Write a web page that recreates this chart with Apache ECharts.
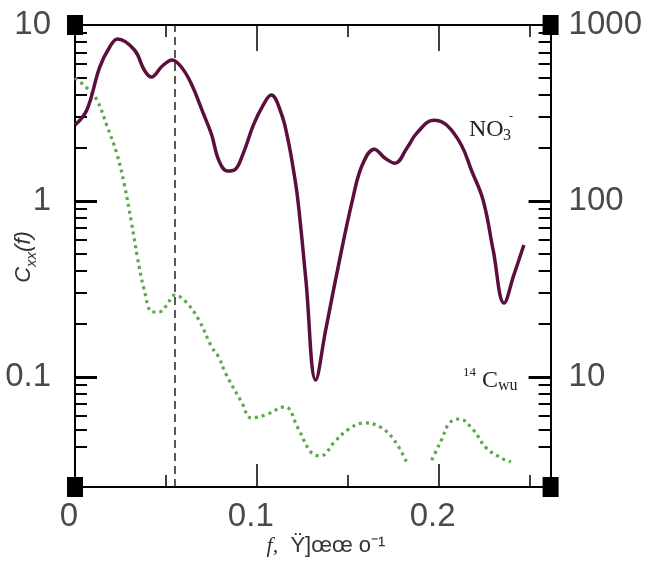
<!DOCTYPE html>
<html><head><meta charset="utf-8">
<script src="https://cdn.jsdelivr.net/npm/echarts@6/dist/echarts.min.js"></script>
<style>html,body{margin:0;padding:0;background:#fff}#c{width:645px;height:564px}</style>
</head><body><div id="c"></div>
<script>
// ---- data (frequency f, spectral density) ----
const no3F = [0, 0.0065, 0.0136, 0.0191, 0.0234, 0.0327, 0.0381, 0.042, 0.048, 0.0534, 0.0589, 0.0643, 0.0698, 0.0752, 0.079, 0.0839, 0.0877, 0.0926, 0.0981, 0.1035, 0.1079, 0.1134, 0.1172, 0.1199, 0.1226, 0.127, 0.1324, 0.1379, 0.1444, 0.1526, 0.158, 0.1646, 0.1706, 0.176, 0.1826, 0.188, 0.1973, 0.2044, 0.2125, 0.218, 0.2245, 0.23, 0.236, 0.2414, 0.2469];
const no3V = [270, 329, 577, 750, 833, 721, 555, 506, 585, 633, 570, 456, 329, 237, 171, 148, 150, 187, 270, 351, 400, 316, 222, 156, 101, 35.6, 9.6, 18.5, 40.5, 101, 160, 197, 175, 164, 200, 243, 288, 270, 208, 150, 101, 52.7, 26.3, 38.0, 56.2];
const c14F = [0, 0.0065, 0.012, 0.0174, 0.0229, 0.0272, 0.0311, 0.0343, 0.0381, 0.0425, 0.0463, 0.0501, 0.055, 0.061, 0.0681, 0.0752, 0.079, 0.0828, 0.0916, 0.097, 0.1046, 0.1155, 0.1226, 0.1297, 0.1351, 0.1428, 0.1499, 0.1591, 0.1678, 0.1755, 0.1826, 0.188, 0.1962, 0.1989, 0.2016, 0.206, 0.2114, 0.2191, 0.2262, 0.2354, 0.2398];
const c14V = [5.0, 4.39, 3.75, 2.70, 1.87, 1.23, 0.75, 0.481, 0.312, 0.234, 0.234, 0.253, 0.292, 0.267, 0.211, 0.148, 0.130, 0.105, 0.0721, 0.0585, 0.0608, 0.0676, 0.0513, 0.0375, 0.0356, 0.0428, 0.050, 0.0548, 0.052, 0.0439, 0.0325, null, 0.0337, 0.0385, 0.0439, 0.0548, 0.0577, 0.050, 0.0395, 0.0342, 0.0329];
const markerF = 0.055;

// ---- axes ----
const xMin = 0, xMax = 0.2616;
const xLabelValues = [0, 0.1, 0.2];
const xMajorTicks = [0.1, 0.2];
const xMinorTicks = [0.05, 0.15, 0.25];
const leftMin = 0.0237, leftMax = 10;
const leftLabelValues = [0.1, 1, 10];
const leftMajorTicks = [0.1, 1];
const leftMinorTicks = [0.04, 0.05, 0.06, 0.07, 0.08, 0.09, 0.2, 0.3, 0.4, 0.5, 0.6, 0.7, 0.8, 0.9, 2, 3, 4, 5, 6, 7, 8, 9];
const rightMin = 2.37, rightMax = 1000;
const rightLabelValues = [10, 100, 1000];
const rightMajorTicks = [10, 100];
const rightMinorTicks = [4, 5, 6, 7, 8, 9, 20, 30, 40, 50, 60, 70, 80, 90, 200, 300, 400, 500, 600, 700, 800, 900];

const lg = Math.log10;
const NUMFONT = '"Liberation Sans", sans-serif';
const NUMCOLOR = '#4a4a4a';
const fmtPow = v => String(+Math.pow(10, v).toPrecision(3));

function yAx(pos, mn, mx, extra) {
  return Object.assign({
    type: 'value', position: pos, min: lg(mn), max: lg(mx),
    splitLine: {show: false}, axisLine: {show: false, onZero: false},
    axisTick: {show: false}, axisLabel: {show: false}
  }, extra);
}
function xAx(pos, extra) {
  return Object.assign({
    type: 'value', position: pos, min: xMin, max: xMax,
    splitLine: {show: false}, axisLine: {show: false, onZero: false},
    axisTick: {show: false}, axisLabel: {show: false}
  }, extra);
}
const lineSt = {show: true, onZero: false, lineStyle: {color: '#000', width: 2}};

const chart = echarts.init(document.getElementById('c'), null, {renderer: 'canvas'});
const option = {
  backgroundColor: '#fff',
  animation: false,
  grid: {left: 75, top: 25, width: 480, height: 462, containLabel: false},
  xAxis: [
    xAx('bottom', {axisLine: lineSt,
      axisTick: {show: true, inside: true, length: 23, customValues: xMajorTicks, lineStyle: {color: '#000', width: 1.5}},
      axisLabel: {show: true, customValues: xLabelValues, margin: 13, fontSize: 33, fontFamily: NUMFONT, color: NUMCOLOR, padding: [0, 12, 0, 0],
        formatter: v => String(+v.toFixed(2))}}),
    xAx('bottom', {axisTick: {show: true, inside: true, length: 12, customValues: xMinorTicks, lineStyle: {color: '#000', width: 1.5}}}),
    xAx('top', {axisLine: lineSt,
      axisTick: {show: true, inside: true, length: 26, customValues: xMajorTicks, lineStyle: {color: '#000', width: 1.5}}}),
    xAx('top', {axisTick: {show: true, inside: true, length: 12, customValues: xMinorTicks, lineStyle: {color: '#000', width: 1.5}}})
  ],
  yAxis: [
    yAx('left', leftMin, leftMax, {axisLine: lineSt,
      axisTick: {show: true, inside: true, length: 22, customValues: leftMajorTicks.map(lg), lineStyle: {color: '#000', width: 3}},
      axisLabel: {show: true, customValues: leftLabelValues.map(lg), margin: 24, fontSize: 33, fontFamily: NUMFONT, color: NUMCOLOR, formatter: fmtPow}}),
    yAx('left', leftMin, leftMax, {
      axisTick: {show: true, inside: true, length: 12, customValues: leftMinorTicks.map(lg), lineStyle: {color: '#000', width: 2}}}),
    yAx('right', rightMin, rightMax, {axisLine: lineSt,
      axisTick: {show: true, inside: true, length: 22, customValues: rightMajorTicks.map(lg), lineStyle: {color: '#000', width: 3}},
      axisLabel: {show: true, customValues: rightLabelValues.map(lg), margin: 18, fontSize: 33, fontFamily: NUMFONT, color: NUMCOLOR, formatter: fmtPow}}),
    yAx('right', rightMin, rightMax, {
      axisTick: {show: true, inside: true, length: 12, customValues: rightMinorTicks.map(lg), lineStyle: {color: '#000', width: 2}}})
  ],
  series: [
    {
      name: '14C', type: 'line', xAxisIndex: 0, yAxisIndex: 0,
      data: c14F.map((f, i) => [f, c14V[i] == null ? null : lg(c14V[i])]),
      smooth: 0.4, showSymbol: false, symbol: 'none', connectNulls: false,
      lineStyle: {color: '#5aa84a', width: 3.2, type: [3, 4], cap: 'butt'},
      markLine: {silent: true, precision: 4, symbol: ['none', 'none'], label: {show: false},
        lineStyle: {type: [8, 5], color: '#222', width: 1.5},
        data: [{xAxis: markerF}]}
    },
    {
      name: 'NO3', type: 'line', xAxisIndex: 0, yAxisIndex: 2,
      data: no3F.map((f, i) => [f, lg(no3V[i])]),
      smooth: 0.4, showSymbol: false, symbol: 'none',
      lineStyle: {color: '#5c0f3e', width: 3.5}
    }
  ]
};
chart.setOption(option);

// corner squares and text annotations
const tl = chart.convertToPixel({xAxisIndex: 0, yAxisIndex: 0}, [xMin, lg(leftMax)]);
const br = chart.convertToPixel({xAxisIndex: 0, yAxisIndex: 0}, [xMax, lg(leftMin)]);
const corners = [[tl[0], tl[1]], [br[0], tl[1]], [tl[0], br[1]], [br[0], br[1]]];
const sq = corners.map(p => ({type: 'rect', shape: {x: p[0] - 8, y: p[1] - 10, width: 16, height: 20}, style: {fill: '#000'}, z: 100}));
const serif = '"Liberation Serif", "DejaVu Serif", serif';
chart.setOption({
  graphic: sq.concat([
    {type: 'text', x: 26, y: 257, rotation: Math.PI / 2, z: 100,
      style: {text: '{c|C}{s|xx}{c|(f)}', align: 'center', verticalAlign: 'middle',
        rich: {c: {fontSize: 22, fontStyle: 'italic', fontFamily: '"Liberation Sans", sans-serif', fill: '#333', lineHeight: 26, verticalAlign: 'top'},
               s: {fontSize: 15, fontStyle: 'italic', fontFamily: '"Liberation Sans", sans-serif', fill: '#333', lineHeight: 26, verticalAlign: 'bottom'}}}},
    {type: 'text', x: 326, y: 546, z: 100,
      style: {text: '{i|f,}  Ÿ]œœ o⁻¹', align: 'center', verticalAlign: 'middle', fontSize: 22, fontFamily: '"Liberation Sans", sans-serif', fill: '#333',
        rich: {i: {fontSize: 22, fontStyle: 'italic', fontFamily: '"Liberation Serif", serif', fill: '#333'}}}},
    {type: 'text', x: 469, y: 130, z: 100, style: {text: 'NO', fontSize: 24, fontFamily: serif, fill: '#222', verticalAlign: 'middle'}},
    {type: 'text', x: 503, y: 136, z: 100, style: {text: '3', fontSize: 16, fontFamily: serif, fill: '#222', verticalAlign: 'middle'}},
    {type: 'text', x: 509, y: 117, z: 100, style: {text: '-', fontSize: 12, fontFamily: serif, fill: '#222', verticalAlign: 'middle'}},
    {type: 'text', x: 463, y: 373, z: 100, style: {text: '14', fontSize: 13, fontFamily: serif, fill: '#222', verticalAlign: 'middle'}},
    {type: 'text', x: 482, y: 381, z: 100, style: {text: 'C', fontSize: 24, fontFamily: serif, fill: '#222', verticalAlign: 'middle'}},
    {type: 'text', x: 498, y: 386, z: 100, style: {text: 'wu', fontSize: 16, fontFamily: serif, fill: '#222', verticalAlign: 'middle'}}
  ])
});
</script>
</body></html>
